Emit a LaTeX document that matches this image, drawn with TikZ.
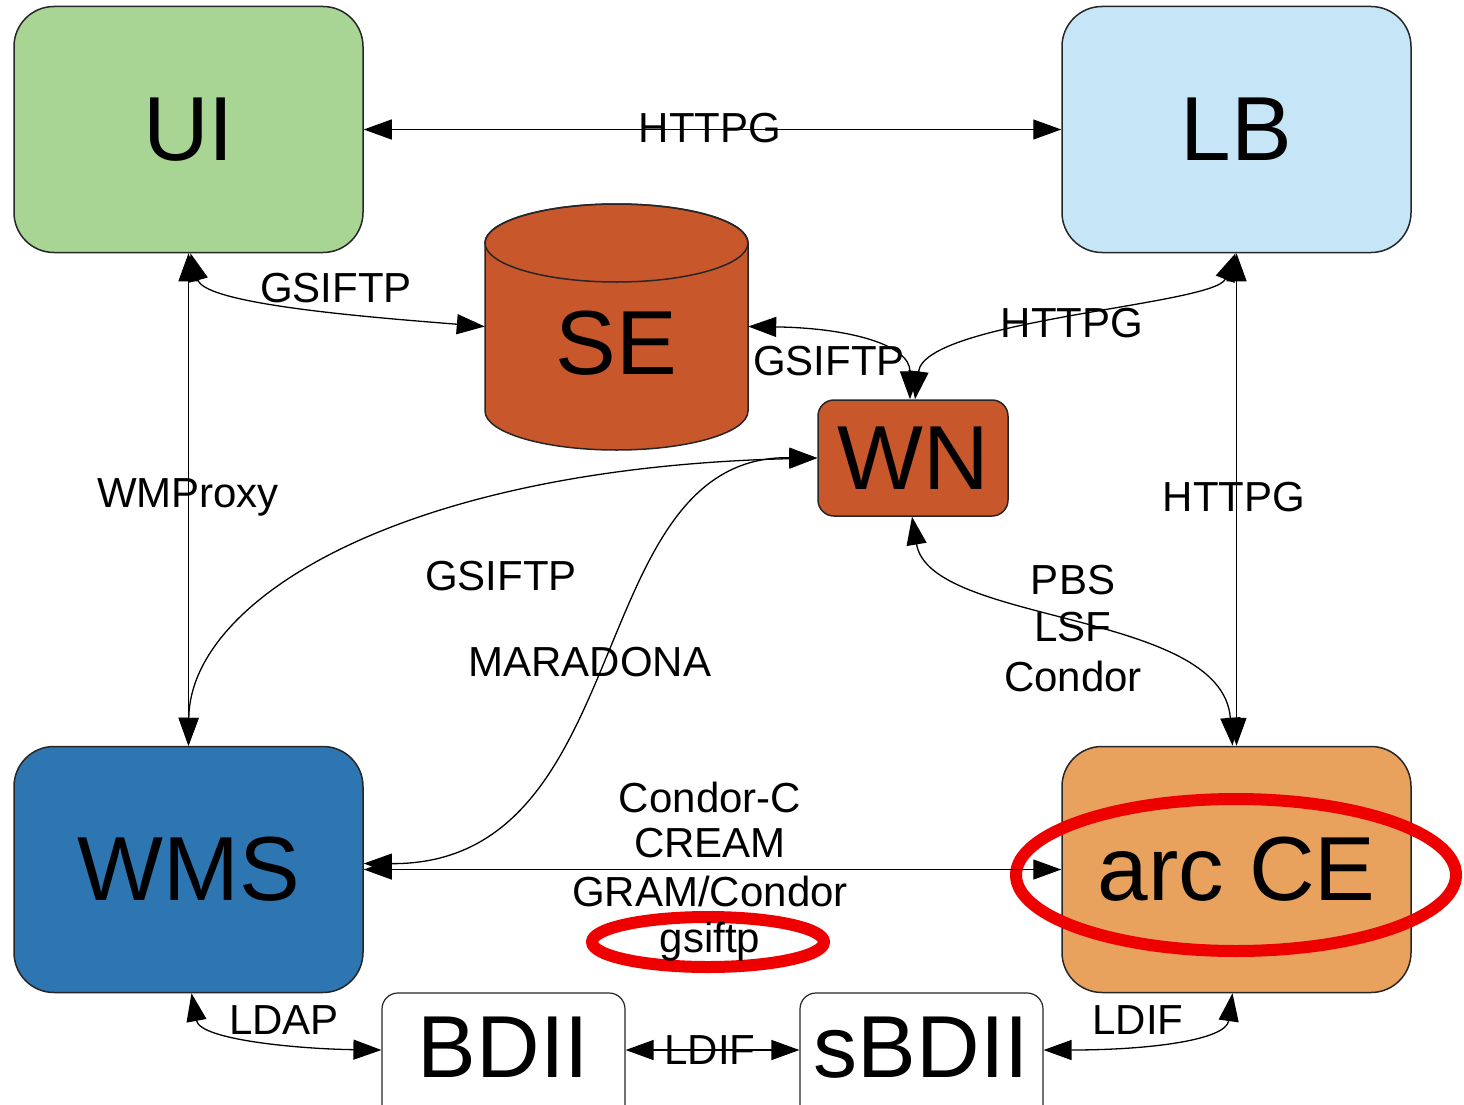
\documentclass[tikz,border=0pt]{standalone}
\usepackage{fontspec}
\setmainfont{Liberation Sans}
\usetikzlibrary{arrows.meta,calc}
\definecolor{uigreen}{HTML}{A8D494}
\definecolor{lbblue}{HTML}{C6E6F8}
\definecolor{serust}{HTML}{C8582C}
\definecolor{wmsblue}{HTML}{2E76B1}
\definecolor{ceorange}{HTML}{E8A25E}
\definecolor{ringred}{HTML}{EE0000}
\begin{document}
\begin{tikzpicture}[x=1pt,y=-1pt,
  bigbox/.style={draw=black!85, line width=1.5pt, rounded corners=40pt,
    minimum width=349pt, minimum height=246pt, inner sep=0pt,
    font=\fontsize{91}{91}\selectfont},
  smallbox/.style={draw=black!85, line width=1.5pt, rounded corners=16pt,
    inner sep=0pt, font=\fontsize{91}{91}\selectfont},
  infobox/.style={draw=black!85, line width=1.2pt, fill=white, rounded corners=16pt,
    minimum width=243pt, minimum height=140pt, inner sep=0pt, text depth=32pt,
    font=\fontsize{88}{88}\selectfont},
  lbl/.style={font=\fontsize{42}{42}\selectfont, inner sep=0pt},
  conn/.style={line width=1.3pt,
    {Triangle[length=28pt,width=20pt]}-{Triangle[length=28pt,width=20pt]}},
  ring/.style={draw=ringred, line width=12pt}
]
\useasboundingbox (0,0) rectangle (1464,1105);

% boxes
\node[bigbox, fill=uigreen] (UI) at (188.5,129.5) {UI};
\node[bigbox, fill=lbblue] (LB) at (1236.5,129.5) {LB};
\node[bigbox, fill=wmsblue] (WMS) at (188.5,869.5) {WMS};
\node[bigbox, fill=ceorange] (CE) at (1236.5,869.5) {arc CE};

% SE cylinder
\filldraw[fill=serust, draw=black!85, line width=1.5pt]
  (485,243) -- (485,411) arc[start angle=180,end angle=0,x radius=131.5,y radius=39]
  -- (748,243) arc[start angle=0,end angle=-180,x radius=131.5,y radius=39] -- cycle;
\draw[black!85, line width=1.5pt] (616.5,243) ellipse[x radius=131.5, y radius=39];
\node[minimum width=263pt, minimum height=247pt, inner sep=0pt, text height=96pt,
  font=\fontsize{91}{91}\selectfont] (SE) at (616.5,326.5) {SE};

\node[smallbox, fill=serust, minimum width=190pt, minimum height=116pt] (WN) at (913,458) {WN};

\node[infobox] (BDII) at (503.5,1063) {BDII};
\node[infobox] (sBDII) at (921.5,1063) {sBDII};

% red annotation rings
\draw[ring] (1236,875) ellipse[x radius=220, y radius=76];
\draw[ring] (708,942) ellipse[x radius=116, y radius=25];

% straight connectors
\draw[conn] (UI.east) -- (LB.west);
\draw[conn] (UI.south) -- (WMS.north);
\draw[conn] (LB.south) -- (CE.north);
\draw[conn] (WMS.east) -- (CE.west);
\draw[conn] ([yshift=13pt]BDII.east) -- ([yshift=13pt]sBDII.west);

% curved connectors
\draw[conn] ([xshift=2pt]UI.south) .. controls (205,305) and (380,318) .. (SE.west);
\draw[conn] (SE.east) .. controls (850,328) and (910,345) .. ([xshift=-3pt]WN.north);
\draw[conn] ([xshift=-1pt]LB.south) .. controls (1215,305) and (925,320) .. ([xshift=2pt]WN.north);
\draw[conn] (WN.west) .. controls (400,468) and (190,600) .. (WMS.north);
\draw[conn] (WN.west) .. controls (580,455) and (640,865) .. ([yshift=6pt]WMS.east);
\draw[conn] ([xshift=-1pt]WN.south) .. controls (930,625) and (1222,610) .. ([xshift=-4pt]CE.north);
\draw[conn] ([xshift=3pt]WMS.south) .. controls (200,1040) and (300,1049) .. ([yshift=13pt]BDII.west);
\draw[conn] ([yshift=13pt]sBDII.east) .. controls (1150,1050) and (1226,1040) .. ([xshift=-4pt]CE.south);

% labels
\node[lbl] (l1) at (710,128) {HTTPG};
\node[lbl] (l2) at (188,497) {WMProxy};
\node[lbl] (l3) at (1234,497) {HTTPG};
\node[lbl] (l4) at (336,288) {GSIFTP};
\node[lbl] (l5) at (829,361) {GSIFTP};
\node[lbl] (l6) at (1072,323) {HTTPG};
\node[lbl] (l7) at (501,576) {GSIFTP};
\node[lbl] (l8) at (590,662) {MARADONA};
\node[lbl] (l9) at (1073,580) {PBS};
\node[lbl] (l10) at (1073,627) {LSF};
\node[lbl] (l11) at (1073,676) {Condor};
\node[lbl] (l12) at (710,797) {Condor-C};
\node[lbl] (l13) at (710,843) {CREAM};
\node[lbl] (l14) at (710,891) {GRAM/Condor};
\node[lbl, anchor=base] (l15) at (710,952) {gsiftp};
\node[lbl] (l16) at (284,1020) {LDAP};
\node[lbl] (l17) at (710,1050) {LDIF};
\node[lbl] (l18) at (1138,1020) {LDIF};
\end{tikzpicture}
\end{document}
